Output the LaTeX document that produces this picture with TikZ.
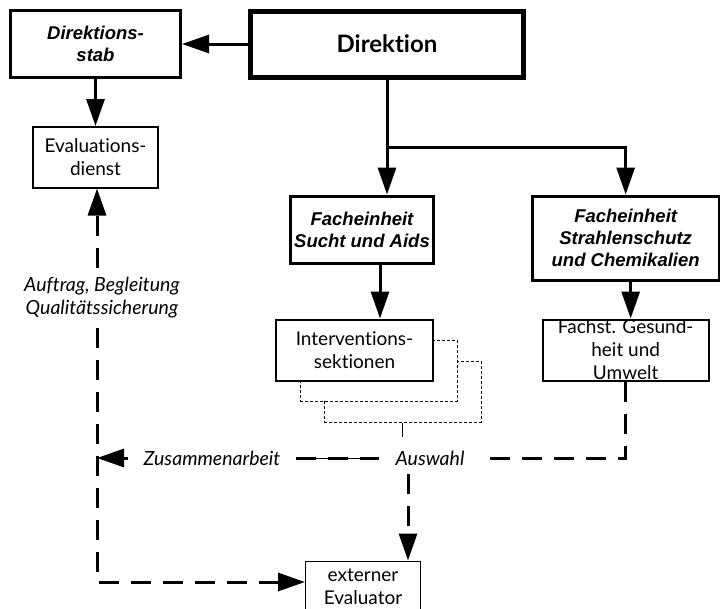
\documentclass[tikz,border=0pt]{standalone}
\usepackage{fontspec}
\setmainfont{Lato}[Ligatures={NoCommon,NoRequired,NoContextual}]
\newfontfamily\helvfont{Liberation Sans}
\usetikzlibrary{arrows.meta,positioning}
\tikzset{leitung/.style={
    % The shape:
    rectangle,
    % The size:
    minimum width=273pt,
    minimum height=66pt,
    % The border:
    line width=5pt,
    draw=black,
    % Font
    font=\bfseries\fontsize{24}{28}\selectfont
    },
    einheit/.style={
    rectangle,
    line width=3pt,
    draw=black,
    align=center,
    font=\helvfont\bfseries\itshape\fontsize{18.5}{22}\selectfont
    },
    stelle/.style={
    rectangle,
    line width=1.5pt,
    draw=black,
    fill=white,
    align=center,
    font=\fontsize{19}{23}\selectfont
    },
    schatten/.style={
    rectangle,
    minimum width=157pt,
    minimum height=61pt,
    line width=1pt,
    dash pattern=on 3pt off 2pt,
    draw=black,
    fill=white,
    },
    beschriftung/.style={
    align=center,
    inner xsep=16pt,
    inner ysep=9pt,
    font=\itshape\fontsize{19.5}{23}\selectfont
    },
    spitze/.style={-{Triangle[length=27pt,width=18pt]}},
    pfeil/.style={line width=3pt,spitze},
    strich/.style={line width=3pt,dash pattern=on 20pt off 12pt},
}

\begin{document}
\begin{tikzpicture}[x=1pt,y=-1pt]
    \clip (0,0) rectangle (720,608);
    \node (dir)     [leitung] at (387,44)          {Direktion};
    \node (stab)    [einheit,minimum width=170pt,minimum height=67pt,left=66pt of dir] {Direktions-\\stab};
    \node (evald)   [stelle,minimum width=125pt,minimum height=61pt,below=47pt of stab] {Evaluations-\\dienst};

    \node (sucht)   [einheit,minimum width=137pt,minimum height=67pt,below=115pt of dir,xshift=-25pt] {Facheinheit\\Sucht und Aids};
    \node (strahl)  [einheit,minimum width=187pt,minimum height=84pt,right=96pt of sucht.north east,anchor=north west] {Facheinheit\\Strahlenschutz\\und Chemikalien};

    \node (interv3) [schatten,below=54pt of sucht,xshift=40.5pt,yshift=-42pt] {};
    \node (interv2) [schatten,below=54pt of sucht,xshift=16.5pt,yshift=-21pt] {};
    \node (interv)  [stelle,line width=2pt,minimum width=157pt,minimum height=61pt,below=54pt of sucht,xshift=-7.5pt] {Interventions-\\sektionen};
    \node (fachst)  [stelle,line width=2pt,fill=none,minimum width=166pt,minimum height=61pt,below=37pt of strahl] {};
    \node (fachsttext) [stelle,draw=none,fill=none] at (fachst) {Fachst. Gesund-\\heit und\\Umwelt};

    \node (extern)  [stelle,line width=1pt,minimum width=115pt,minimum height=52pt] at (363,587) {externer\\Evaluator};

    \node (auftrag) [beschriftung] at (102,298) {Auftrag, Begleitung\\Qualitätssicherung};
    \node (zus)     [beschriftung] at (212,458) {Zusammenarbeit};
    \node (ausw)    [beschriftung] at (430,458) {Auswahl};
    \coordinate (split) at (387,147);
    \coordinate (links) at (97,458);
    \coordinate (ecke)  at (97,582);

    \draw[pfeil] (dir) -- (stab);
    \draw[pfeil] (stab) -- (evald);
    \draw[line width=3pt] (dir) -- (split);
    \draw[pfeil] (split) -- (split |- sucht.north);
    \draw[pfeil] (split) -| (strahl.north);
    \draw[pfeil] ([xshift=18pt]sucht.south) -- ([xshift=18pt]sucht.south |- interv.north);
    \draw[pfeil] ([xshift=5pt]strahl.south) -- ([xshift=5pt]strahl.south |- fachst.north);

    \draw[line width=0.8pt] (interv3.south) -- ++(0,14);
    \draw[strich] (fachst.south) |- (ausw.east);
    \draw[line width=1pt] (zus.east) -- (ausw.west);
    \draw[strich] (zus.east) -- (ausw.west);
    \draw[strich,spitze] (zus.west) -- (links);
    \draw[strich,spitze] ([xshift=-22pt]ausw.south) -- ([xshift=-22pt]ausw.south |- extern.north);
    \draw[strich,spitze] (ecke |- auftrag.north) -- (ecke |- evald.south);
    \draw[strich,spitze] (ecke |- auftrag.south) -- (ecke) -- (ecke -| extern.west);
\end{tikzpicture}
\end{document}
